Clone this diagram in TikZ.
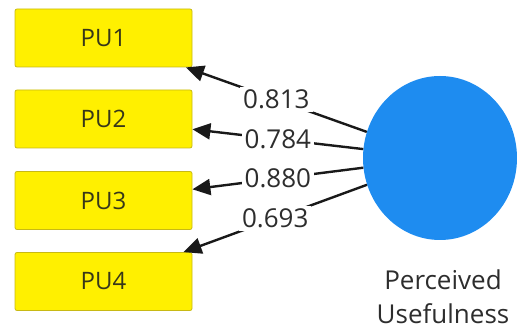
\documentclass[tikz,border=0pt]{standalone}
\usepackage{fontspec}
\setmainfont{Open Sans}
\usetikzlibrary{arrows.meta,shapes.geometric}
\definecolor{puyellow}{RGB}{255,240,0}
\definecolor{puborder}{RGB}{200,185,20}
\definecolor{putext}{RGB}{55,55,25}
\definecolor{lvblue}{RGB}{30,140,240}
\definecolor{numtext}{RGB}{45,45,45}
\tikzset{
  indbox/.style={draw=puborder, line width=0.8pt, fill=puyellow, rounded corners=2pt,
    minimum width=177pt, minimum height=58pt, inner sep=0pt,
    font=\fontsize{24}{28}\selectfont, text=putext},
  latent/.style={ellipse, fill=lvblue, draw=none, minimum width=154pt, minimum height=164pt, inner sep=0pt},
  loading/.style={-{Triangle[length=18pt,width=16pt]}, line width=2.4pt, draw=black!90},
  lbl/.style={fill=white, inner sep=3pt, font=\fontsize{26}{30}\selectfont, text=numtext},
  lvname/.style={align=center, font=\fontsize{26}{34}\selectfont, text=numtext, inner sep=0pt}
}
\begin{document}
\begin{tikzpicture}[x=1pt,y=-1pt]
\useasboundingbox (0,0) rectangle (517,331);
\node[indbox] (pu1) at (103.5,38) {PU1};
\node[indbox] (pu2) at (103.5,119) {PU2};
\node[indbox] (pu3) at (103.5,200.5) {PU3};
\node[indbox] (pu4) at (103.5,281.5) {PU4};
\node[latent] (pu) at (440,158) {};
\node[lvname] (puname) at (443,297) {Perceived\\Usefulness};
\draw[loading] (pu) -- node[lbl] {0.813} (pu1);
\draw[loading] (pu) -- node[lbl] {0.784} (pu2);
\draw[loading] (pu) -- node[lbl] {0.880} (pu3);
\draw[loading] (pu) -- node[lbl] {0.693} (pu4);
\end{tikzpicture}
\end{document}
